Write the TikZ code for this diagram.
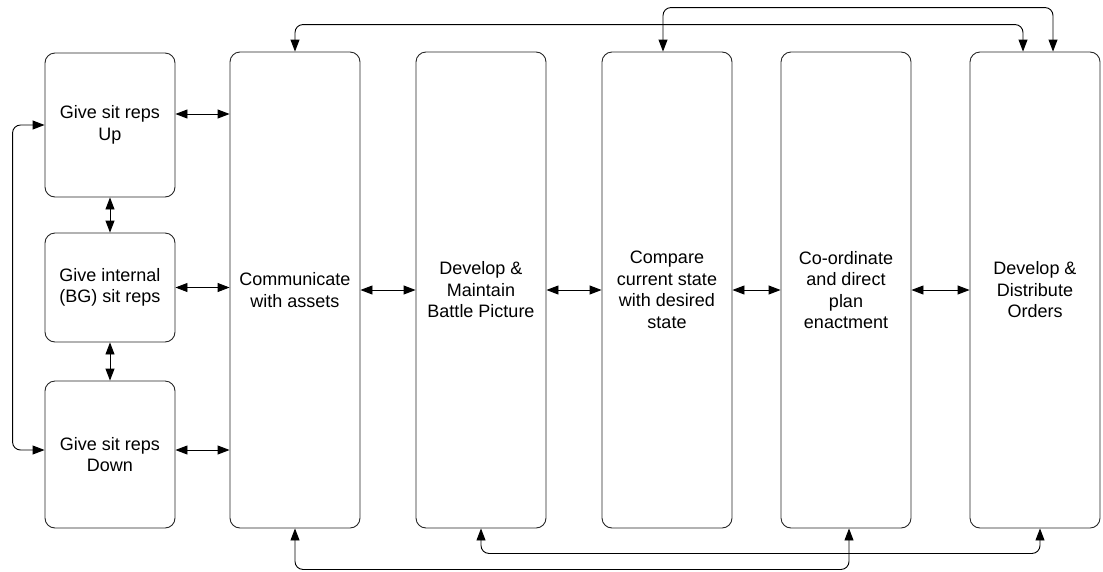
\documentclass[tikz,border=0pt]{standalone}
\usepackage{fontspec}
\setmainfont{Liberation Sans}
\usetikzlibrary{arrows.meta}
\begin{document}
\begin{tikzpicture}[x=1pt,y=-1pt,
  box/.style={draw=black!85,line width=0.9pt,rounded corners=10pt,align=center,
    font=\fontsize{18}{21.5}\selectfont,inner sep=0pt,minimum width=130pt},
  arr/.style={line width=0.9pt,{Triangle[length=12pt,width=9pt]}-{Triangle[length=12pt,width=9pt]}},
  rc/.style={rounded corners=8pt}]
\useasboundingbox (0,0) rectangle (1103,571);
\node[box,minimum height=144pt] (b1) at (110,125) {Give sit reps\\Up};
\node[box,minimum height=109pt] (b2) at (110,287.5) {Give internal\\(BG) sit reps};
\node[box,minimum height=147pt] (b3) at (110,454.5) {Give sit reps\\Down};
\node[box,minimum height=476pt] (comm) at (295,290) {Communicate\\with assets};
\node[box,minimum height=476pt] (dev) at (481,290) {Develop \&\\Maintain\\Battle Picture};
\node[box,minimum height=476pt] (cmp) at (667,290) {Compare\\current state\\with desired\\state};
\node[box,minimum height=476pt] (coord) at (846,290) {Co-ordinate\\and direct\\plan\\enactment};
\node[box,minimum height=476pt] (dist) at (1035,290) {Develop \&\\Distribute\\Orders};
% small box connectors
\draw[arr] ([yshift=11pt]b1.east) -- ([yshift=11pt]b1.east -| comm.west);
\draw[arr] (b2.east) -- (b2.east -| comm.west);
\draw[arr] ([yshift=4.5pt]b3.east) -- ([yshift=4.5pt]b3.east -| comm.west);
\draw[arr] (b1.south) -- (b2.north);
\draw[arr] (b2.south) -- (b3.north);
\draw[arr,rc] (b1.west) -- ++(-32pt,0pt) |- ([yshift=4.5pt]b3.west);
% big box connectors
\draw[arr] (comm.east) -- (dev.west);
\draw[arr] (dev.east) -- (cmp.west);
\draw[arr] (cmp.east) -- (coord.west);
\draw[arr] (coord.east) -- (dist.west);
% top loops
\draw[arr,rc] (comm.north) -- ++(0pt,27pt) -| ([xshift=-12pt]dist.north);
\draw[arr,rc] ([xshift=-4pt]cmp.north) -- ++(0pt,44pt) -| ([xshift=18pt]dist.north);
% bottom loops
\draw[arr,rc] (dev.south) -- ++(0pt,-25pt) -| ([xshift=5pt]dist.south);
\draw[arr,rc] (comm.south) -- ++(0pt,-41pt) -| ([xshift=3pt]coord.south);
\end{tikzpicture}
\end{document}
